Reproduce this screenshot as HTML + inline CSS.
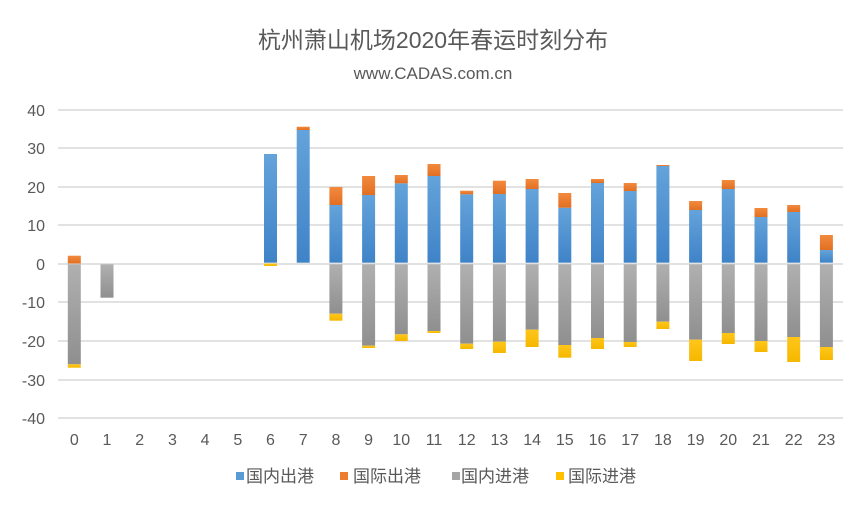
<!DOCTYPE html>
<html><head><meta charset="utf-8"><style>
html,body{margin:0;padding:0;background:#fff;width:867px;height:507px;overflow:hidden}
svg text{font-family:"Liberation Sans","Noto Sans CJK SC",sans-serif;fill:#595959}
</style></head><body>
<svg id="c" width="867" height="507" viewBox="0 0 867 507" xmlns="http://www.w3.org/2000/svg">
<defs>
<linearGradient id="gb" x1="0" y1="0" x2="0" y2="1"><stop offset="0" stop-color="#64a3da"/><stop offset="1" stop-color="#3f83c8"/></linearGradient>
<linearGradient id="go" x1="0" y1="0" x2="0" y2="1"><stop offset="0" stop-color="#f28a3e"/><stop offset="1" stop-color="#e26f22"/></linearGradient>
<linearGradient id="gg" x1="0" y1="0" x2="0" y2="1"><stop offset="0" stop-color="#b0b0b0"/><stop offset="1" stop-color="#8f8f8f"/></linearGradient>
<linearGradient id="gy" x1="0" y1="0" x2="0" y2="1"><stop offset="0" stop-color="#ffc61a"/><stop offset="1" stop-color="#f5b800"/></linearGradient>
</defs>
<text x="433" y="48" font-size="23" text-anchor="middle">杭州萧山机场2020年春运时刻分布</text>
<text x="433" y="79" font-size="17" text-anchor="middle">www.CADAS.com.cn</text>
<g stroke="#d9d9d9" stroke-width="1.5">
<line x1="58" x2="843" y1="110" y2="110"/><line x1="58" x2="843" y1="148" y2="148"/>
<line x1="58" x2="843" y1="187" y2="187"/><line x1="58" x2="843" y1="225" y2="225"/>
<line x1="58" x2="843" y1="264" y2="264"/><line x1="58" x2="843" y1="302" y2="302"/>
<line x1="58" x2="843" y1="341" y2="341"/><line x1="58" x2="843" y1="380" y2="380"/>
<line x1="58" x2="843" y1="418" y2="418"/>
</g>
<g font-size="16" text-anchor="end">
<text x="45" y="116">40</text><text x="45" y="154">30</text><text x="45" y="193">20</text>
<text x="45" y="231">10</text><text x="45" y="270">0</text><text x="45" y="308">-10</text>
<text x="45" y="347">-20</text><text x="45" y="386">-30</text><text x="45" y="424">-40</text>
</g>
<g id="bars"></g>
<g font-size="16" text-anchor="middle" id="xl">
<text x="74.3" y="445">0</text><text x="107" y="445">1</text><text x="139.7" y="445">2</text><text x="172.4" y="445">3</text><text x="205.1" y="445">4</text><text x="237.8" y="445">5</text><text x="270.5" y="445">6</text><text x="303.2" y="445">7</text><text x="335.9" y="445">8</text><text x="368.6" y="445">9</text><text x="401.3" y="445">10</text><text x="434" y="445">11</text><text x="466.7" y="445">12</text><text x="499.4" y="445">13</text><text x="532.1" y="445">14</text><text x="564.8" y="445">15</text><text x="597.5" y="445">16</text><text x="630.2" y="445">17</text><text x="662.9" y="445">18</text><text x="695.6" y="445">19</text><text x="728.3" y="445">20</text><text x="761" y="445">21</text><text x="793.7" y="445">22</text><text x="826.4" y="445">23</text>
</g>
<g font-size="17">
<rect x="236" y="472" width="8" height="8" fill="#5b9bd5"/><text x="246" y="482">国内出港</text>
<rect x="340" y="472" width="8" height="8" fill="#ed7d31"/><text x="353" y="482">国际出港</text>
<rect x="452" y="472" width="8" height="8" fill="#a5a5a5"/><text x="461" y="482">国内进港</text>
<rect x="556" y="472" width="8" height="8" fill="#ffc000"/><text x="568" y="482">国际进港</text>
</g>
</svg>
<script>
// [blueTop, orangeTop, grayBottom, yellowBottom] in pixel y
var d=[[263.5,255.7,364.3,367.7],[263.5,263.5,297.7,297.7],null,null,null,null,
[154,154,263.5,266],[130,126.7,263.5,263.5],[205,187,313.7,320.7],[195,176,345.7,348],
[183.3,175,334.3,341],[176,164,331,333],[194.3,190.7,343.7,349],[194,180.7,341.7,353],
[189,179,329.7,347],[207.7,193,345,357.7],[183,179,338,349],[191,183,342,347],
[166,165,321.7,329],[210,201,339.7,361],[189,180,333,344],[217,208,341,352],
[212,205,337,362],[250,235,347,360]];
var g=document.getElementById('bars'),s='',Z=263.5;
function r(x,y1,y2,f){if(y2-y1<=0.1)return '';return '<rect x="'+x+'" y="'+y1+'" width="13" height="'+(y2-y1)+'" fill="url(#'+f+')"/>';}
for(var i=0;i<24;i++){var v=d[i];if(!v)continue;var x=74.3+32.7*i-6.5;
s+=r(x,v[0],Z-0.8,'gb')+r(x,v[1],v[0],'go')+r(x,Z+0.8,v[2],'gg')+r(x,v[2],v[3],'gy');}
g.innerHTML=s;
</script>
</body></html>
